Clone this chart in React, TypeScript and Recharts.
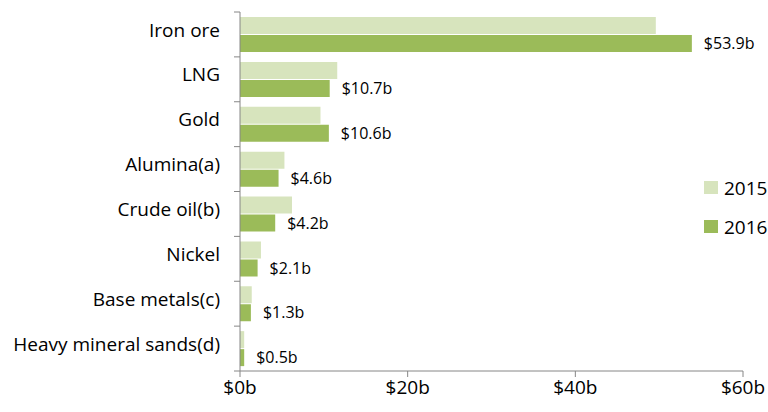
import React from 'react';
import { BarChart, Bar, XAxis, YAxis, LabelList } from 'recharts';

const commodities = [
  'Iron ore',
  'LNG',
  'Gold',
  'Alumina(a)',
  'Crude oil(b)',
  'Nickel',
  'Base metals(c)',
  'Heavy mineral sands(d)',
];
const values2015 = [49.6, 11.6, 9.6, 5.3, 6.2, 2.5, 1.4, 0.5];
const values2016 = [53.9, 10.7, 10.6, 4.6, 4.2, 2.1, 1.3, 0.5];
const xTicks = [0, 20, 40, 60];
const seriesNames = ['2015', '2016'];

const data = commodities.map((name, i) => ({
  name,
  y2015: values2015[i],
  y2016: values2016[i],
}));

const FONT = '"Open Sans", "Liberation Sans", Arial, sans-serif';
const AXIS = '#868686';
const LIGHT = '#D7E4BD';
const DARK = '#9BBB59';
const PLOT_TOP = 12;
const PLOT_H = 359;
const BAND = PLOT_H / commodities.length;

const CategoryTick = (props: any) => {
  const { x, y, payload, index } = props;
  return (
    <g>
      {index === 0 && (
        <line x1={x + 2} x2={x + 8} y1={y - BAND / 2} y2={y - BAND / 2} stroke={AXIS} />
      )}
      <line x1={x + 2} x2={x + 8} y1={y + BAND / 2} y2={y + BAND / 2} stroke={AXIS} />
      <text x={x - 12} y={y - 3} textAnchor="end" dominantBaseline="middle" fontSize={19} fill="#000" fontFamily={FONT}>
        {payload.value}
      </text>
    </g>
  );
};

const LegendBox = () => (
  <div style={{ position: 'absolute', left: 704, top: 168, fontFamily: FONT, fontSize: 19, color: '#000' }}>
    {seriesNames.map((label, i) => (
      <div key={label} style={{ display: 'flex', alignItems: 'center', height: 39 }}>
        <span style={{ width: 14, height: 13, background: i === 0 ? LIGHT : DARK, marginRight: 6, display: 'inline-block' }} />
        {label}
      </div>
    ))}
  </div>
);

export default function App() {
  return (
    <div style={{ position: 'absolute', left: 0, top: 0, width: 768, height: 412, background: '#fff' }}>
      <BarChart
        width={768}
        height={412}
        data={data}
        layout="vertical"
        margin={{ top: PLOT_TOP, right: 25, bottom: 11, left: 0 }}
        barSize={17}
        barGap={1}
      >
        <XAxis
          type="number"
          domain={[0, 60]}
          ticks={xTicks}
          tickFormatter={(v: number) => `$${v}b`}
          stroke={AXIS}
          tick={{ fill: '#000', fontSize: 19, fontFamily: FONT }}
          tickSize={6}
          tickMargin={4}
          height={30}
        />
        <YAxis
          type="category"
          dataKey="name"
          width={240}
          stroke={AXIS}
          tickLine={false}
          tick={<CategoryTick />}
          interval={0}
        />
        <Bar dataKey="y2015" name="2015" fill={LIGHT} isAnimationActive={false} />
        <Bar dataKey="y2016" name="2016" fill={DARK} isAnimationActive={false}>
          <LabelList
            dataKey="y2016"
            position="right"
            offset={12}
            formatter={(v: any) => `$${v}b`}
            style={{ fill: '#000', fontSize: 16, fontFamily: FONT }}
          />
        </Bar>
      </BarChart>
      <LegendBox />
    </div>
  );
}
